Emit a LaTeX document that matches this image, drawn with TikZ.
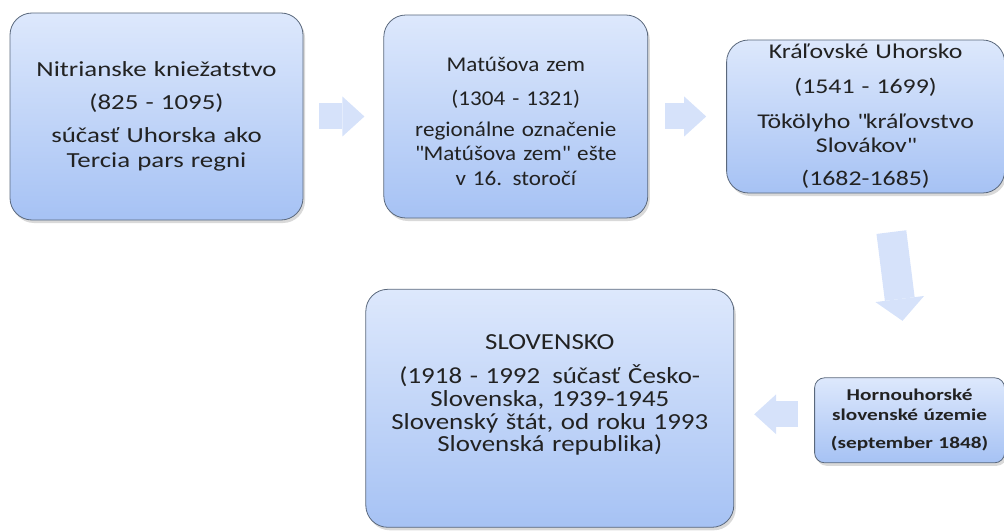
\documentclass[tikz,border=0pt]{standalone}
\usepackage{fontspec}
\setmainfont{Carlito}
\newfontfamily\nitrafont[FakeStretch=1.25]{Carlito}
\newfontfamily\matusfont[FakeStretch=1.1]{Carlito}
\newfontfamily\kralfont[FakeStretch=1.23]{Carlito}
\newfontfamily\slovfont[FakeStretch=1.17]{Carlito}
\newfontfamily\hornfont[FakeStretch=1.29]{Carlito}
\usepackage{xcolor}
\usetikzlibrary{arrows.meta, positioning, shadows, calc}
\definecolor{boxtop}{HTML}{DDE8FC}
\definecolor{boxbottom}{HTML}{A6C2F4}
\definecolor{boxline}{HTML}{5A687C}
\definecolor{arrowfill}{HTML}{D6E2FA}
\definecolor{textgray}{HTML}{222222}
\tikzset{
    era/.style={rectangle, rounded corners=22pt, draw=boxline, line width=0.8pt, top color=boxtop, bottom color=boxbottom, text=textgray, align=center, inner sep=4pt, drop shadow={shadow xshift=2pt, shadow yshift=-3pt, opacity=0.3}},
    smallera/.style={era, rounded corners=10pt},
    blockarrow/.style={line width=26pt, draw=arrowfill, -{Triangle[length=22pt, width=40pt, line width=0pt]}}
}
\begin{document}
\begin{tikzpicture}[x=1pt, y=-1pt]
    \useasboundingbox (0,0) rectangle (1004,532);

    \node (nitra) [era, minimum width=293pt, minimum height=207pt, text width=284pt, font=\nitrafont\fontsize{21.5}{25}\selectfont] at (156.5,116.5)
        {Nitrianske kniežatstvo\\[8pt] (825 - 1095)\\[8pt] súčasť Uhorska ako\\ Tercia pars regni};
    \node (matus) [era, right=80pt of nitra, minimum width=264pt, minimum height=203pt, text width=255pt, font=\matusfont\fontsize{21}{24.5}\selectfont]
        {\mbox{}\\[-1pt] Matúšova zem\\[10pt] (1304 - 1321)\\[6pt] regionálne označenie\\ \textquotedbl Matúšova zem\textquotedbl{} ešte\\ v 16. storočí};
    \node (kral) [era, right=78pt of matus, minimum width=278pt, minimum height=153pt, text width=270pt, font=\kralfont\fontsize{21}{24}\selectfont]
        {Kráľovské Uhorsko\\[11pt] (1541 - 1699)\\[11pt] Tökölyho \textquotedbl kráľovstvo\\ Slovákov\textquotedbl\\[9pt] (1682-1685)};

    \node (horn) [smallera, below=184pt of kral, xshift=44pt, minimum width=190pt, minimum height=85pt, text width=182pt, font=\hornfont\bfseries\fontsize{16.5}{20}\selectfont]
        {Hornouhorské\\ slovenské územie\\[8pt] (september 1848)};
    \node (slov) [era, left=80pt of horn, yshift=12pt, minimum width=368pt, minimum height=238pt, text width=358pt, font=\slovfont\fontsize{23}{22.7}\selectfont]
        {SLOVENSKO\\[12pt] (1918 - 1992\hspace{12pt}súčasť Česko-\\ Slovenska, 1939-1945\\ Slovenský štát, od roku 1993\\ Slovenská republika)\\[8pt]\mbox{}};

    \draw[blockarrow, shorten <=16pt, shorten >=19pt] (nitra) -- (matus);
    \draw[blockarrow, shorten <=17pt, shorten >=20pt] (matus) -- (kral);
    \draw[blockarrow, line width=30pt, -{Triangle[length=22pt, width=49pt, line width=0pt]}, shorten <=39pt, shorten >=57pt]
        ($(kral.south)!0.15!(kral.south east)$) -- (horn.north);
    \draw[blockarrow, shorten <=16pt, shorten >=20pt] ([yshift=6pt]horn.west) -- ([yshift=-6pt]slov.east);
\end{tikzpicture}
\end{document}
